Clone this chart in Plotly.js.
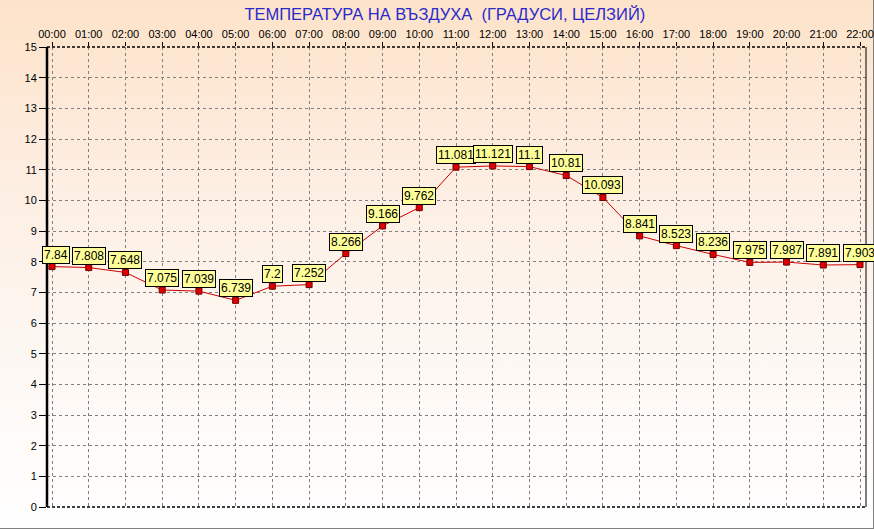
<!DOCTYPE html>
<html>
<head>
<meta charset="utf-8">
<script src="https://cdn.plot.ly/plotly-3.0.1.min.js"></script>
<style>
html, body { margin: 0; padding: 0; }
body { width: 874px; height: 529px; overflow: hidden;
  background: linear-gradient(to bottom, #fde3c9 0%, #fdeee2 35%, #fdf7f2 65%, #fffdfc 92%, #ffffff 100%); }
#frame { position: absolute; left: 0; top: 0; width: 873px; height: 528px;
  border-right: 1px solid #808080; border-bottom: 1px solid #808080; }
#chart { position: absolute; left: 0; top: 0; width: 874px; height: 529px; }
</style>
</head>
<body>
<div id="frame"></div>
<div id="chart"></div>
<script>
const hours = ["00:00","01:00","02:00","03:00","04:00","05:00","06:00","07:00","08:00","09:00","10:00","11:00",
               "12:00","13:00","14:00","15:00","16:00","17:00","18:00","19:00","20:00","21:00","22:00"];
const temperature = [7.84, 7.808, 7.648, 7.075, 7.039, 6.739, 7.2, 7.252, 8.266, 9.166, 9.762, 11.081,
                     11.121, 11.1, 10.81, 10.093, 8.841, 8.523, 8.236, 7.975, 7.987, 7.891, 7.903];
const valueLabels = ["7.84","7.808","7.648","7.075","7.039","6.739","7.2","7.252","8.266","9.166","9.762","11.081",
                     "11.121","11.1","10.81","10.093","8.841","8.523","8.236","7.975","7.987","7.891","7.903"];
const yTicks = [0,1,2,3,4,5,6,7,8,9,10,11,12,13,14,15];

const xIdx = hours.map((h, i) => i);

const trace = {
  x: xIdx, y: temperature, type: 'scatter', mode: 'lines+markers',
  line: { color: '#cc0000', width: 1 },
  marker: { symbol: 'square', size: 6, color: '#dd0000', line: { color: '#700000', width: 1 } },
  hoverinfo: 'skip', cliponaxis: false
};

const annotations = xIdx.map((i) => ({
  x: i, y: temperature[i], xref: 'x', yref: 'y',
  text: valueLabels[i], showarrow: false,
  yanchor: 'bottom', xanchor: 'center', yshift: 3, xshift: i === 0 ? 4 : 0,
  bgcolor: '#ffff99', bordercolor: '#000000', borderwidth: 1, borderpad: 1,
  font: { family: 'Liberation Sans, Arial, sans-serif', size: 12, color: '#000000' }
}));

const gridDash = '3px,3px';
const layout = {
  width: 874, height: 529,
  paper_bgcolor: 'rgba(0,0,0,0)', plot_bgcolor: 'rgba(0,0,0,0)',
  margin: { l: 47, r: 8, t: 47, b: 22 },
  showlegend: false,
  font: { family: 'Liberation Sans, Arial, sans-serif', size: 11, color: '#000' },
  title: { text: 'ТЕМПЕРАТУРА НА ВЪЗДУХА&nbsp;&nbsp;(ГРАДУСИ, ЦЕЛЗИЙ)', x: 0.509, xanchor: 'center', y: 0.973, yanchor: 'middle',
           font: { family: 'Liberation Sans, Arial, sans-serif', size: 16.5, color: '#2a2acc' } },
  xaxis: {
    side: 'top', range: [-0.136, 22.163], tickmode: 'array', tickvals: xIdx, ticktext: hours,
    showgrid: true, gridcolor: '#808080', griddash: gridDash, gridwidth: 1,
    zeroline: false, showline: false, ticks: 'outside', ticklen: 4, tickcolor: '#000',
    tickfont: { size: 11, color: '#000' }, fixedrange: true
  },
  yaxis: {
    range: [0, 15], tickmode: 'array', tickvals: yTicks, ticktext: yTicks.map(String),
    showgrid: true, gridcolor: '#808080', griddash: gridDash, gridwidth: 1,
    zeroline: false, showline: false, ticks: 'outside', ticklen: 7, tickcolor: '#000',
    tickfont: { size: 11, color: '#000' }, fixedrange: true
  },
  shapes: [
    { type: 'line', xref: 'paper', yref: 'paper', x0: 0, x1: 1, y0: 1, y1: 1, line: { color: '#000', width: 1.5, dash: '3px,2px' } },
    { type: 'line', xref: 'paper', yref: 'paper', x0: 0, x1: 1, y0: 0, y1: 0, line: { color: '#000', width: 1.5, dash: '3px,2px' } },
    { type: 'line', xref: 'paper', yref: 'paper', x0: 1, x1: 1, y0: 0, y1: 1, line: { color: '#000', width: 1 } },
    { type: 'line', xref: 'paper', yref: 'paper', x0: 0, x1: 0, y0: 0, y1: 1, line: { color: '#000', width: 2.5 } }
  ],
  annotations: annotations
};

Plotly.newPlot('chart', [trace], layout, { displayModeBar: false, staticPlot: true });
</script>
</body>
</html>
